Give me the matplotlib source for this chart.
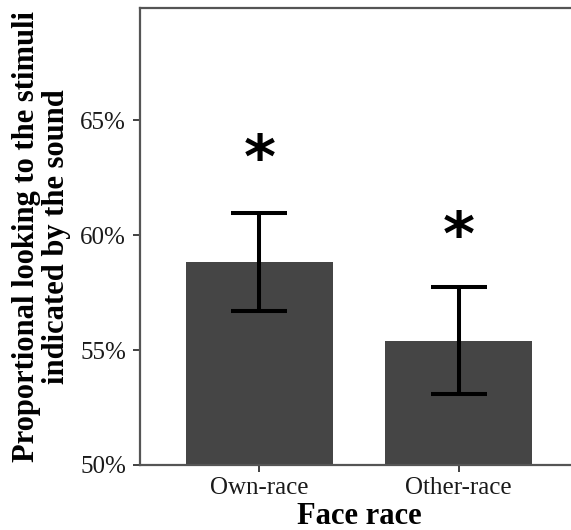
import matplotlib
matplotlib.use("Agg")
import matplotlib.pyplot as plt
from matplotlib.ticker import FuncFormatter

# Mean proportional looking (%) with standard errors, by face race
categories = ["Own-race", "Other-race"]
means = [58.83, 55.40]
errors = [2.13, 2.33]
star_y = [63.72, 60.40]
yticks = [50, 55, 60, 65]

W, H = 571, 530
fig = plt.figure(figsize=(W / 100, H / 100), dpi=100)
ax = fig.add_axes([140 / W, 1 - 465 / H, 438 / W, 457 / H])

x = list(range(len(categories)))
ax.bar(x, [m - 50 for m in means], bottom=50, width=0.74, color="#454545", zorder=2)
ax.errorbar(x, means, yerr=errors, fmt="none", ecolor="black",
            elinewidth=2.9, capsize=20, capthick=2.9, zorder=3)
# significance stars; the glyph sits high in its box, so nudge it down
for xi, sy in zip(x, star_y):
    ax.annotate("*", xy=(xi, sy), xytext=(0, -9), textcoords="offset points",
                ha="center", va="center", fontsize=44, fontweight="bold",
                family="DejaVu Sans", color="black")

ax.set_xlim(-0.6, 1.6)
ax.set_ylim(50, 69.87)
ax.set_xticks(x)
ax.set_xticklabels(categories)
ax.set_yticks(yticks)
ax.yaxis.set_major_formatter(FuncFormatter(lambda v, p: f"{v:.0f}%"))

serif = "Liberation Serif"
for lab in ax.get_xticklabels() + ax.get_yticklabels():
    lab.set_family(serif)
    lab.set_fontsize(18)
    lab.set_color("#1a1a1a")
ax.tick_params(length=5, width=1.3, color="#333333", pad=4)
ax.tick_params(axis="y", pad=5)

for side in ["left", "top", "bottom"]:
    ax.spines[side].set_color("#555555")
    ax.spines[side].set_linewidth(1.6)
ax.spines["right"].set_visible(False)

ax.set_xlabel("Face race", family=serif, fontweight="bold", fontsize=22, labelpad=2)
ax.set_ylabel("Proportional looking to the stimuli\nindicated by the sound",
              family=serif, fontweight="bold", fontsize=22, linespacing=1.02, labelpad=7)

fig.savefig("out.png", dpi=100, facecolor="white")
